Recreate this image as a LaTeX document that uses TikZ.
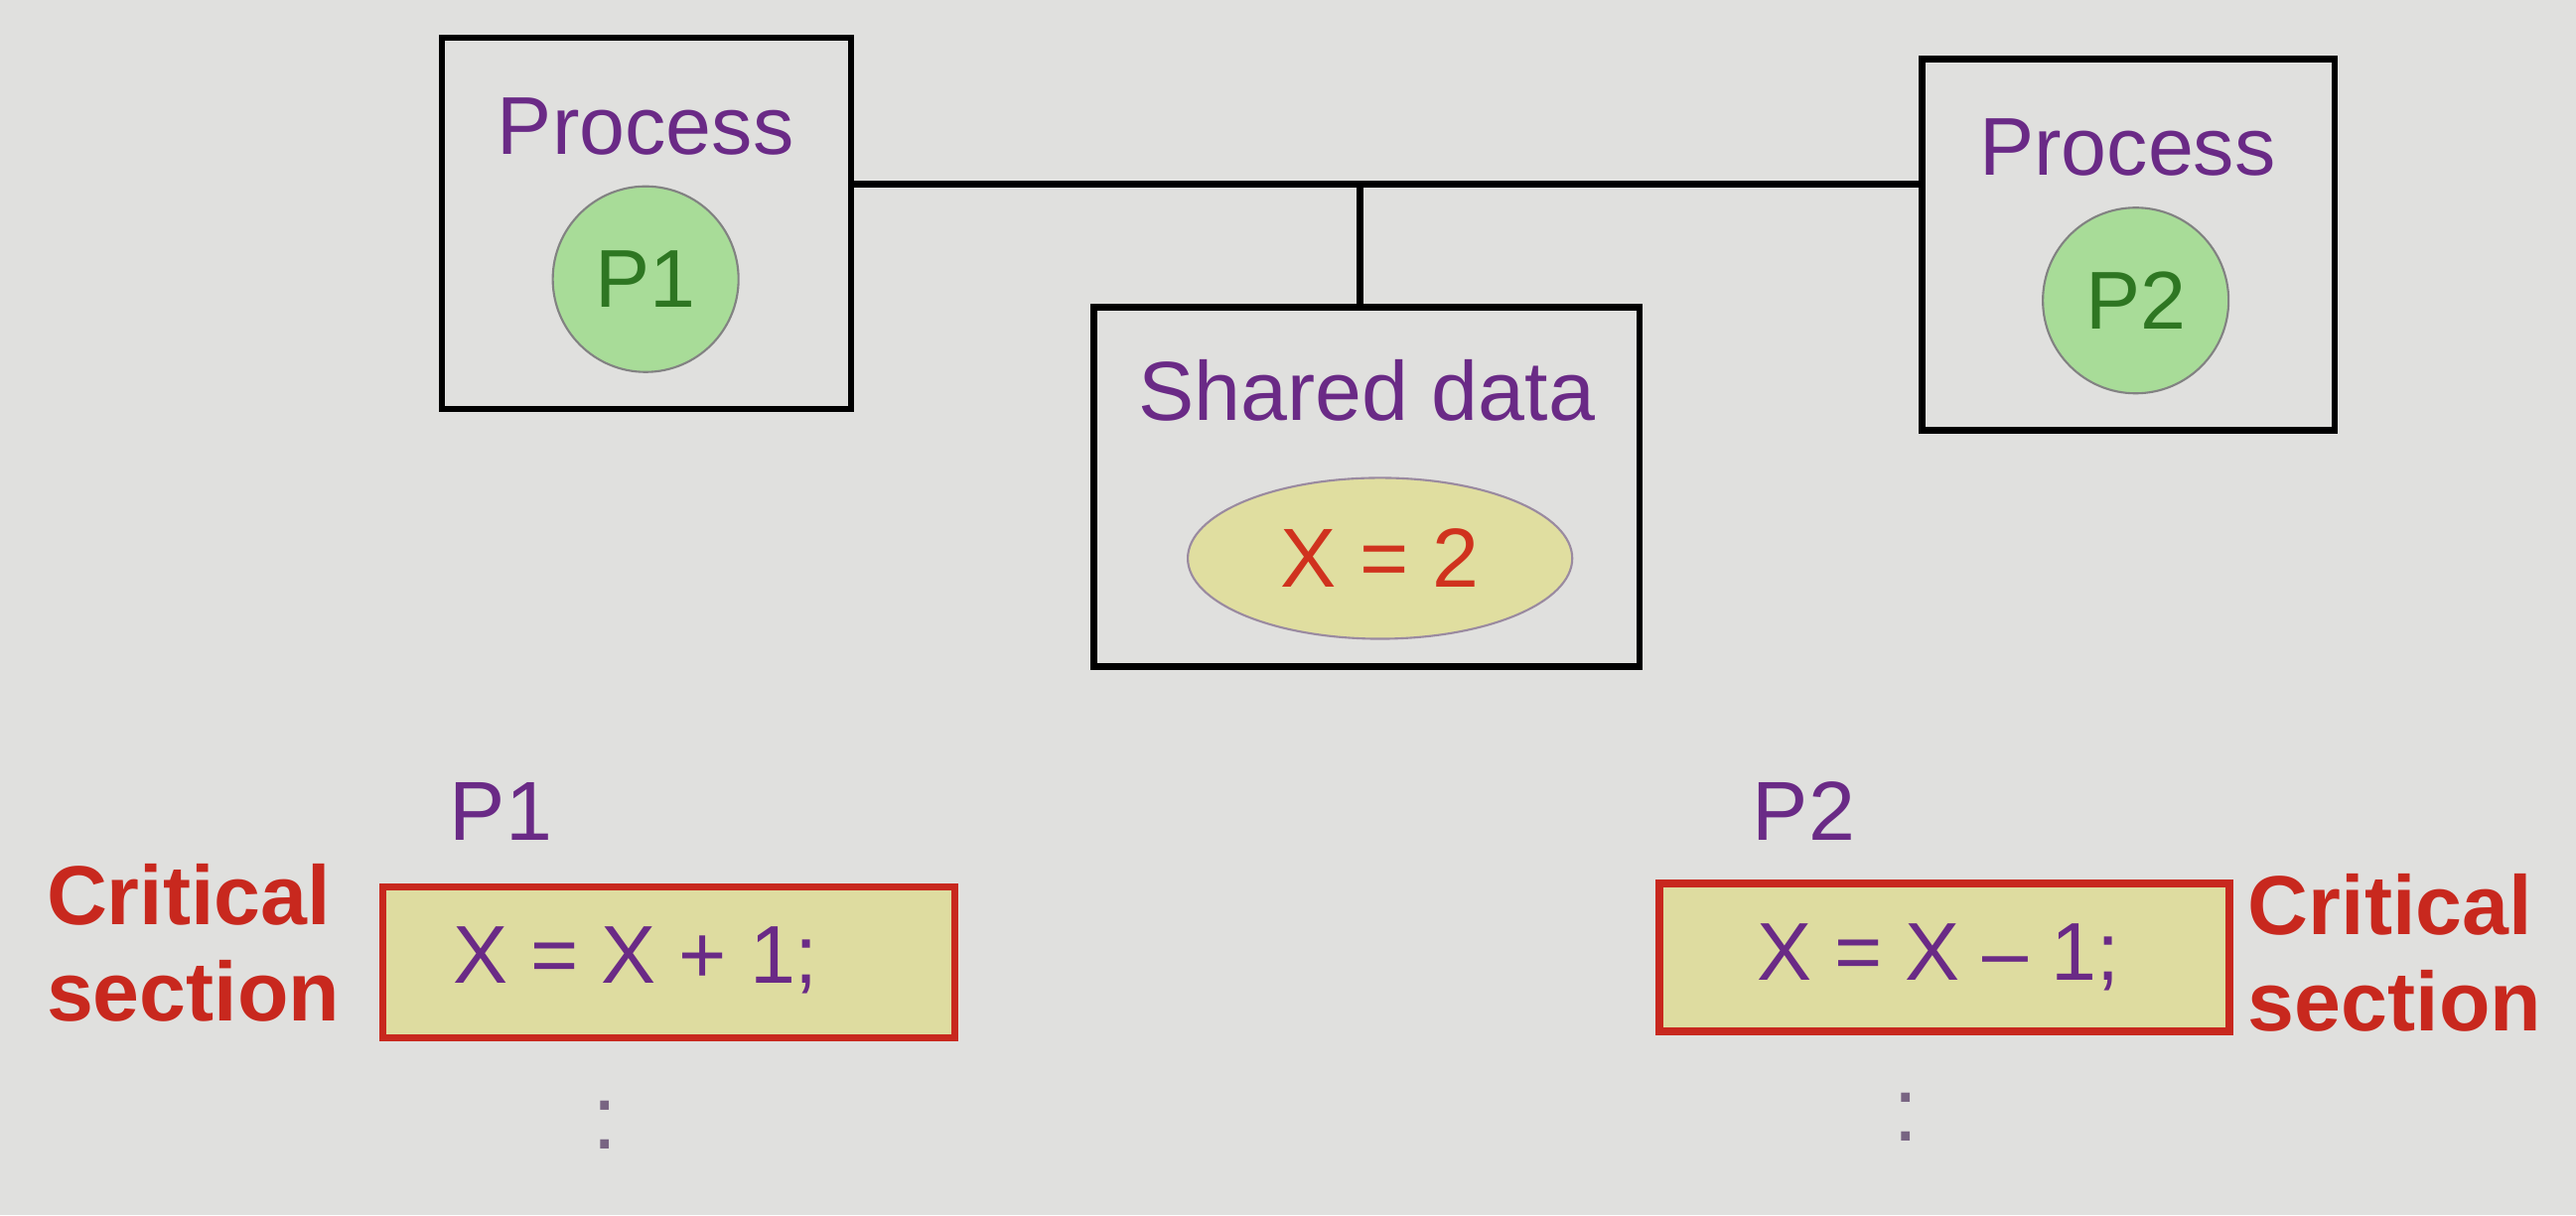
\documentclass[tikz,border=0pt]{standalone}
\usepackage{fontspec}
\setmainfont{Liberation Sans}
\usetikzlibrary{shapes.geometric}
\definecolor{bgc}{RGB}{224,224,222}
\definecolor{purp}{RGB}{106,42,134}
\definecolor{grn}{RGB}{46,118,34}
\definecolor{cfill}{RGB}{168,220,152}
\definecolor{cdraw}{RGB}{130,130,130}
\definecolor{efill}{RGB}{224,222,160}
\definecolor{edraw}{RGB}{154,138,160}
\definecolor{redc}{RGB}{200,40,30}
\definecolor{rfill}{RGB}{222,220,160}
\definecolor{xred}{RGB}{208,50,30}
\definecolor{dotc}{RGB}{120,100,130}
\tikzset{
  blackbox/.style={draw=black,line width=1.9pt,rectangle,inner sep=0pt,outer sep=0pt},
  pcirc/.style={circle,draw=cdraw,fill=cfill,line width=0.6pt,minimum size=1.87cm,inner sep=0pt,text=grn,font=\fontsize{23.5}{27}\selectfont},
  ptxt/.style={text=purp,font=\fontsize{23.5}{27}\selectfont,inner sep=0pt},
  critbox/.style={draw=redc,fill=rfill,line width=2.1pt,rectangle,inner sep=0pt,outer sep=0pt},
  crittxt/.style={text=redc,font=\bfseries\fontsize{24}{27.5}\selectfont,align=left,inner sep=0pt},
  dottxt/.style={text=dotc,font=\fontsize{26}{30}\selectfont,inner sep=0pt},
  wire/.style={draw=black,line width=1.9pt}
}
\begin{document}
\begin{tikzpicture}[x=0.016543cm,y=-0.016543cm]
\fill[bgc] (0,0) rectangle (1568,740);
\useasboundingbox (0,0) rectangle (1568,740);
% top boxes
\node[blackbox,minimum width=4.119cm,minimum height=3.739cm] (pbox1) at (393.5,136) {};
\node[ptxt] (proc1) at (393,77) {Process};
\node[pcirc] (pc1) at (393,170) {P1};
\node[blackbox,minimum width=4.152cm,minimum height=3.739cm] (pbox2) at (1295.5,149) {};
\node[ptxt] (proc2) at (1295,90) {Process};
\node[pcirc] (pc2) at (1300,183) {P2};
\node[blackbox,minimum width=5.492cm,minimum height=3.623cm] (shared) at (832,296.5) {};
\node[ptxt,font=\fontsize{24}{28}\selectfont] (shtxt) at (832,238) {Shared data};
\node[ellipse,draw=edraw,fill=efill,line width=0.6pt,minimum width=3.871cm,minimum height=1.621cm,inner sep=0pt,text=xred,font=\fontsize{24}{28}\selectfont] (xval) at (840,340) {X = 2};
% connectors
\coordinate (j) at (828,112);
\draw[wire] (pbox1.east |- j) -- (pbox2.west |- j);
\draw[wire] (j) -- (shared.north -| j);
% bottom left
\node[ptxt,font=\fontsize{24}{28}\selectfont] (lab1) at (305,494) {P1};
\node[critbox,minimum width=5.757cm,minimum height=1.522cm] (cb1) at (407,586) {};
\node[ptxt] (code1) at (387,585) {X = X + 1;};
\node[crittxt,anchor=west] (crit1) at (28,574) {Critical\\section};
\node[dottxt] (dots1) at (368,685) {:};
% bottom right
\node[ptxt,font=\fontsize{24}{28}\selectfont] (lab2) at (1098,494) {P2};
\node[critbox,minimum width=5.740cm,minimum height=1.489cm] (cb2) at (1183.5,583) {};
\node[ptxt] (code2) at (1180,583) {X = X – 1;};
\node[crittxt,anchor=west] (crit2) at (1368,580) {Critical\\section};
\node[dottxt] (dots2) at (1160,680) {:};
\end{tikzpicture}
\end{document}
